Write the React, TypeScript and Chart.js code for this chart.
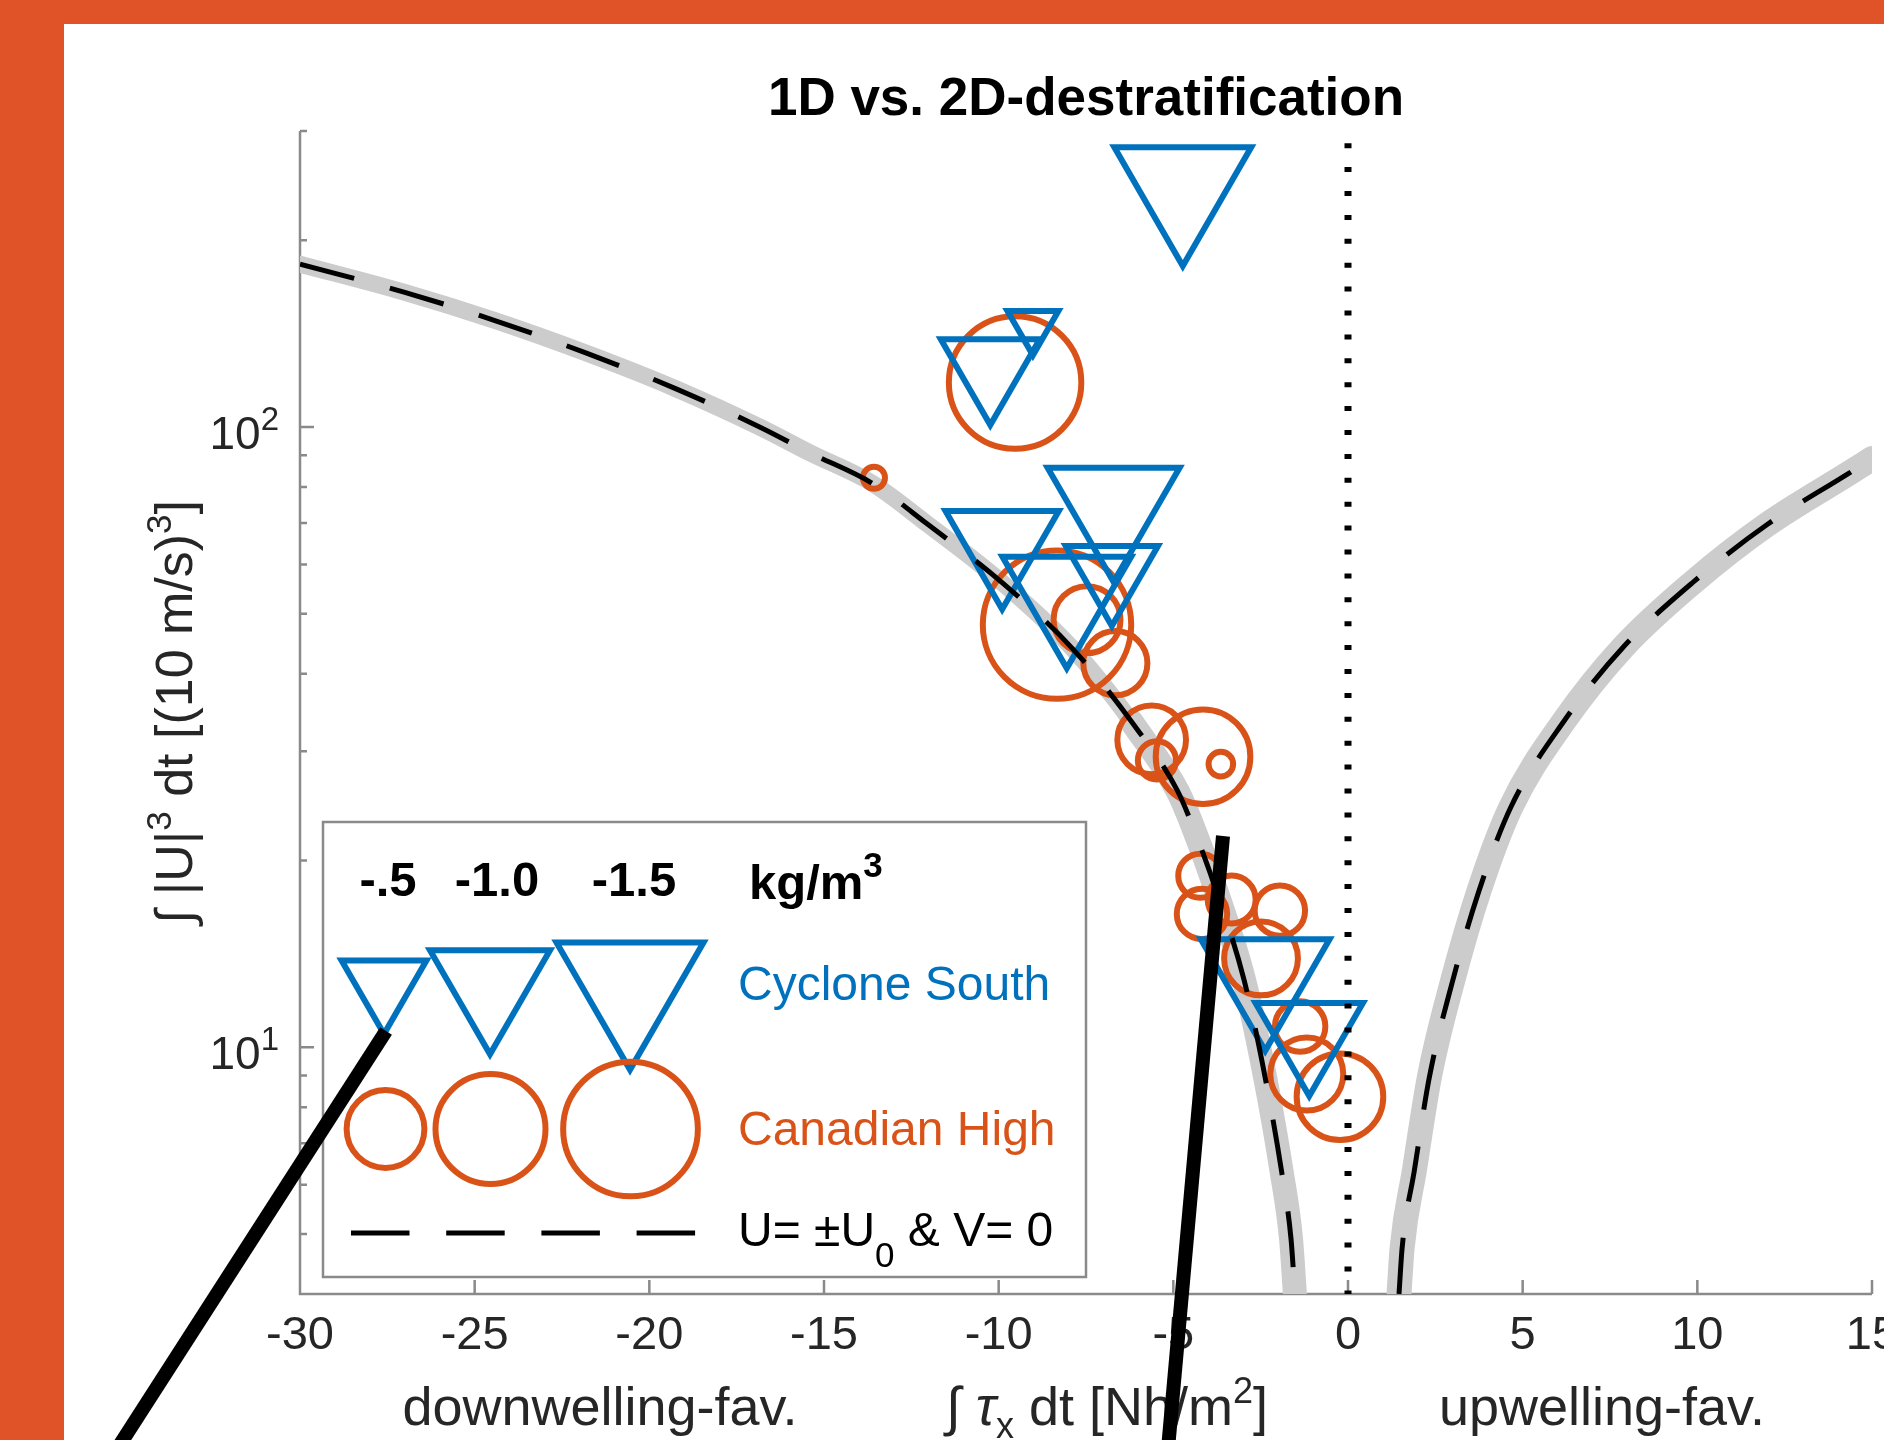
import React, { useEffect, useRef } from 'react';
import { Chart, registerables } from 'chart.js';

Chart.register(...registerables);

const FONT = '"Liberation Sans", Arial, Helvetica, sans-serif';
const BLUE = '#0072BD';
const ORANGE = '#D95319';
const FRAME = '#E05328';
const AXIS = '#8a8a8a';
const TEXT = '#262626';
const BAND = '#cccccc';
const MARKER_LW = 6;

// ---------------- data ----------------
// U = ±U0 & V = 0 reference curve (two branches)
const curveLeftX = [-30, -27, -24.4, -21.8, -19.25, -16.8, -15.4, -13.6, -12.05, -9.9, -7.9, -6.2, -4.88, -4.47, -3.76, -2.97, -2.37, -1.9, -1.63, -1.52];
const curveLeftY = [183, 164.8, 148.3, 131.5, 115.3, 99.7, 90.8, 81, 69.8, 56.1, 44.0, 33.5, 25.9, 22.9, 17.8, 12.8, 8.93, 6.3, 4.9, 4.0];
const curveRightX = [1.46, 1.55, 1.9, 2.33, 2.98, 3.74, 4.65, 6.19, 7.87, 9.88, 12.0, 14.31, 15.0];
const curveRightY = [4.0, 4.75, 6.33, 8.95, 12.7, 17.8, 24.3, 33.6, 44.1, 56.2, 69.6, 84.0, 88.9];
// split (indices) between the thin upper and the wider lower part of the grey band on the left branch
const bandSplitStart = 11; // lower band starts at x = -6.2
const bandSplitEnd = 12; // upper band ends at x = -4.88

// Cyclone South (down triangles)
const cycloneX = [-4.73, -9.02, -10.24, -6.71, -9.9, -8.05, -6.76, -2.37, -1.11];
const cycloneY = [243.8, 145.6, 124.5, 74.6, 64.8, 53.8, 58.2, 13.0, 10.5];
const cycloneDrho = [-1.3, -0.18, -0.68, -1.21, -0.89, -1.15, -0.59, -1.15, -0.8];

// Canadian High (circles)
const canadianX = [-9.53, -8.33, -7.47, -6.66, -5.62, -4.15, -3.64, -5.47, -13.57, -4.23, -4.18, -3.33, -1.95, -2.49, -1.37, -1.18, -0.23];
const canadianY = [117.9, 48.0, 48.9, 41.6, 31.3, 29.4, 28.6, 29.0, 82.8, 18.9, 16.4, 17.3, 16.6, 13.9, 10.8, 9.05, 8.32];
const canadianDrho = [-1.45, -1.82, -0.37, -0.34, -0.39, -0.74, -0.05, -0.12, -0.04, -0.16, -0.21, -0.19, -0.21, -0.45, -0.21, -0.44, -0.62];

// axes
const xTicks = [-30, -25, -20, -15, -10, -5, 0, 5, 10, 15];
const yMajorTicks = [10, 100];
const yTickExponents = ['1', '2'];
const yMinorTicks = [4, 5, 6, 7, 8, 9, 20, 30, 40, 50, 60, 70, 80, 90, 200, 300];
const zeroLineY = [300, 4];

// legend
const legendDrho = [-0.5, -1.0, -1.5];
const legendHeader = ['-.5', '-1.0', '-1.5'];

// marker size encodes density change (area ~ |Δρ|)
const triRadius = (d: number) => 69.3 * Math.sqrt(Math.abs(d));
const circRadius = (d: number) => 55 * Math.sqrt(Math.abs(d));

type Seg = { t: string; size: number; weight?: string; style?: string; dy?: number };

function segFont(s: Seg) {
  return `${s.style || 'normal'} ${s.weight || 'normal'} ${s.size}px ${FONT}`;
}

function drawRich(
  ctx: CanvasRenderingContext2D,
  segs: Seg[],
  x: number,
  y: number,
  align: 'left' | 'center' | 'right',
  color: string
) {
  ctx.save();
  ctx.textAlign = 'left';
  ctx.textBaseline = 'alphabetic';
  ctx.fillStyle = color;
  const widths = segs.map((s) => {
    ctx.font = segFont(s);
    return ctx.measureText(s.t).width;
  });
  const total = widths.reduce((a, b) => a + b, 0);
  let cx = align === 'center' ? x - total / 2 : align === 'right' ? x - total : x;
  segs.forEach((s, i) => {
    ctx.font = segFont(s);
    ctx.fillText(s.t, cx, y + (s.dy || 0));
    cx += widths[i];
  });
  ctx.restore();
}

function strokeDownTriangle(ctx: CanvasRenderingContext2D, cx: number, cy: number, r: number) {
  ctx.beginPath();
  for (let k = 0; k < 3; k++) {
    const ang = Math.PI + (k * 2 * Math.PI) / 3;
    const px = cx + Math.sin(ang) * r;
    const py = cy - Math.cos(ang) * r;
    if (k === 0) ctx.moveTo(px, py);
    else ctx.lineTo(px, py);
  }
  ctx.closePath();
  ctx.stroke();
}

const decorPlugin = {
  id: 'decor',
  beforeDatasetsDraw(chart: any) {
    const { ctx, chartArea: a, scales } = chart;
    const xs = scales.x;
    const ys = scales.y;
    ctx.save();
    ctx.strokeStyle = AXIS;
    ctx.lineWidth = 2.5;
    ctx.lineCap = 'butt';
    ctx.beginPath();
    ctx.moveTo(a.left, a.top);
    ctx.lineTo(a.left, a.bottom);
    ctx.lineTo(a.right, a.bottom);
    xTicks.forEach((v) => {
      const p = xs.getPixelForValue(v);
      ctx.moveTo(p, a.bottom);
      ctx.lineTo(p, a.bottom - 14);
    });
    yMajorTicks.forEach((v) => {
      const p = ys.getPixelForValue(v);
      ctx.moveTo(a.left, p);
      ctx.lineTo(a.left + 14, p);
    });
    yMinorTicks.forEach((v) => {
      const p = ys.getPixelForValue(v);
      ctx.moveTo(a.left, p);
      ctx.lineTo(a.left + 7, p);
    });
    ctx.stroke();
    ctx.restore();

    // y tick labels 10^n
    yMajorTicks.forEach((v, i) => {
      const p = ys.getPixelForValue(v);
      drawRich(
        ctx,
        [
          { t: '10', size: 46 },
          { t: yTickExponents[i], size: 33, dy: -19 },
        ],
        a.left - 21,
        p + 22,
        'right',
        TEXT
      );
    });
  },
  afterDraw(chart: any) {
    const { ctx } = chart;
    // title
    drawRich(ctx, [{ t: '1D vs. 2D-destratification', size: 53, weight: 'bold' }], 1086, 115, 'center', '#000');

    // x axis labels
    drawRich(ctx, [{ t: 'downwelling-fav.', size: 54 }], 600, 1425, 'center', TEXT);
    drawRich(ctx, [{ t: 'upwelling-fav.', size: 54 }], 1602, 1425, 'center', TEXT);
    drawRich(
      ctx,
      [
        { t: '\u222B ', size: 54 },
        { t: '\u03C4', size: 54, style: 'italic' },
        { t: 'x', size: 36, dy: 13 },
        { t: ' dt [Nh/m', size: 54 },
        { t: '2', size: 36, dy: -22 },
        { t: ']', size: 54 },
      ],
      1107,
      1425,
      'center',
      TEXT
    );

    // y axis label (rotated)
    ctx.save();
    ctx.translate(180, 712);
    ctx.rotate(-Math.PI / 2);
    drawRich(
      ctx,
      [
        { t: '\u222B |U|', size: 52 },
        { t: '3', size: 35, dy: -21 },
        { t: ' dt [(10 m/s)', size: 52 },
        { t: '3', size: 35, dy: -21 },
        { t: ']', size: 52 },
      ],
      0,
      12,
      'center',
      TEXT
    );
    ctx.restore();

    // legend
    ctx.save();
    ctx.fillStyle = '#ffffff';
    ctx.fillRect(323, 822, 763, 455);
    ctx.strokeStyle = AXIS;
    ctx.lineWidth = 2.5;
    ctx.strokeRect(323, 822, 763, 455);
    ctx.restore();

    const headerX = [388, 497, 634];
    legendHeader.forEach((h, i) => {
      drawRich(ctx, [{ t: h, size: 49, weight: 'bold' }], headerX[i], 896, 'center', '#000');
    });
    drawRich(
      ctx,
      [
        { t: 'kg/m', size: 49, weight: 'bold' },
        { t: '3', size: 35, weight: 'bold', dy: -22 },
      ],
      749,
      899,
      'left',
      '#000'
    );

    const triX = [384, 490, 630];
    const circX = [385.5, 490.5, 630.5];
    ctx.save();
    ctx.lineWidth = MARKER_LW;
    ctx.lineJoin = 'miter';
    ctx.strokeStyle = BLUE;
    legendDrho.forEach((d, i) => strokeDownTriangle(ctx, triX[i], 985, triRadius(d)));
    ctx.strokeStyle = ORANGE;
    legendDrho.forEach((d, i) => {
      ctx.beginPath();
      ctx.arc(circX[i], 1129, circRadius(d), 0, Math.PI * 2);
      ctx.stroke();
    });
    ctx.strokeStyle = '#000';
    ctx.lineWidth = 5;
    ctx.setLineDash([58.5, 36.7]);
    ctx.beginPath();
    ctx.moveTo(351, 1233);
    ctx.lineTo(696, 1233);
    ctx.stroke();
    ctx.restore();

    drawRich(ctx, [{ t: 'Cyclone South', size: 48 }], 738, 1000, 'left', BLUE);
    drawRich(ctx, [{ t: 'Canadian High', size: 48 }], 738, 1145, 'left', ORANGE);
    drawRich(
      ctx,
      [
        { t: 'U= \u00B1U', size: 48 },
        { t: '0', size: 35, dy: 21 },
        { t: ' & V= 0', size: 48 },
      ],
      738,
      1246,
      'left',
      '#000'
    );

    // annotation strokes
    ctx.save();
    ctx.strokeStyle = '#000';
    ctx.lineCap = 'butt';
    ctx.lineWidth = 14;
    ctx.beginPath();
    ctx.moveTo(386, 1031);
    ctx.lineTo(110, 1460);
    ctx.stroke();
    ctx.lineWidth = 14;
    ctx.beginPath();
    ctx.moveTo(1223, 836);
    ctx.lineTo(1167, 1460);
    ctx.stroke();
    ctx.restore();
  },
};

export default function App() {
  const ref = useRef<HTMLCanvasElement | null>(null);

  useEffect(() => {
    const canvas = ref.current;
    if (!canvas) return;

    const pts = (xs: number[], ys: number[]) => xs.map((x, i) => ({ x, y: ys[i] }));
    const leftPts = pts(curveLeftX, curveLeftY);
    const rightPts = pts(curveRightX, curveRightY);

    const band = (data: any[], width: number, label: string) => ({
      label,
      data,
      showLine: true,
      borderColor: BAND,
      borderWidth: width,
      borderCapStyle: 'round',
      borderJoinStyle: 'round',
      pointRadius: 0,
      cubicInterpolationMode: 'monotone',
      clip: 0,
      order: 10,
    });

    const dashed = (data: any[], label: string) => ({
      label,
      data,
      showLine: true,
      borderColor: '#000',
      borderWidth: 5,
      borderDash: [56, 37],
      pointRadius: 0,
      cubicInterpolationMode: 'monotone',
      clip: 0,
      order: 2,
    });

    const chart = new Chart(canvas, {
      type: 'scatter',
      data: {
        datasets: [
          band(leftPts.slice(0, bandSplitEnd + 1), 17, 'band-left-upper'),
          band(leftPts.slice(bandSplitStart), 24, 'band-left-lower'),
          band(rightPts, 25, 'band-right'),
          {
            label: 'Canadian High',
            data: pts(canadianX, canadianY),
            showLine: false,
            pointStyle: 'circle',
            pointRadius: (c: any) => circRadius(canadianDrho[c.dataIndex]),
            pointBorderWidth: MARKER_LW,
            pointBorderColor: ORANGE,
            pointBackgroundColor: 'rgba(0,0,0,0)',
            clip: false,
            order: 8,
          },
          {
            label: 'Cyclone South',
            data: pts(cycloneX, cycloneY),
            showLine: false,
            pointStyle: 'triangle',
            pointRotation: 180,
            pointRadius: (c: any) => triRadius(cycloneDrho[c.dataIndex]),
            pointBorderWidth: MARKER_LW,
            pointBorderColor: BLUE,
            pointBackgroundColor: 'rgba(0,0,0,0)',
            clip: false,
            order: 6,
          },
          {
            label: 'zero',
            data: zeroLineY.map((y) => ({ x: 0, y })),
            showLine: true,
            borderColor: '#000',
            borderWidth: 7,
            borderDash: [5, 18.9],
            borderDashOffset: 11.7,
            pointRadius: 0,
            clip: 0,
            order: 4,
          },
          dashed(leftPts, 'U=±U0 left'),
          dashed(rightPts, 'U=±U0 right'),
        ],
      } as any,
      options: {
        responsive: false,
        devicePixelRatio: 1,
        animation: false,
        events: [],
        locale: 'en-US',
        layout: { padding: { left: 0, top: 131, right: 12, bottom: 0 }, autoPadding: false },
        plugins: {
          legend: { display: false },
          title: { display: false },
          tooltip: { enabled: false },
        },
        scales: {
          x: {
            type: 'linear',
            min: -30,
            max: 15,
            afterBuildTicks: (s: any) => {
              s.ticks = xTicks.map((v) => ({ value: v }));
            },
            afterFit: (s: any) => {
              s.height = 146;
              s.paddingLeft = 0;
              s.paddingRight = 0;
            },
            grid: { display: false, drawTicks: false },
            border: { display: false },
            ticks: {
              font: { family: FONT, size: 47 },
              color: TEXT,
              padding: 14,
              autoSkip: false,
              maxRotation: 0,
              minRotation: 0,
              callback: (v: any) => String(v),
            },
          },
          y: {
            type: 'logarithmic',
            min: 4,
            max: 300,
            afterBuildTicks: (s: any) => {
              s.ticks = yMajorTicks.map((v) => ({ value: v }));
            },
            afterFit: (s: any) => {
              s.width = 300;
              s.paddingTop = 0;
              s.paddingBottom = 0;
            },
            grid: { display: false, drawTicks: false },
            border: { display: false },
            ticks: { display: false },
          },
        },
      } as any,
      plugins: [decorPlugin as any],
    });

    return () => chart.destroy();
  }, []);

  return (
    <div
      style={{
        position: 'fixed',
        left: 0,
        top: 0,
        width: 1884,
        height: 1440,
        background: FRAME,
        overflow: 'hidden',
      }}
    >
      <div style={{ position: 'absolute', left: 64, top: 24, right: 0, bottom: 0, background: '#ffffff' }} />
      <canvas
        ref={ref}
        width={1884}
        height={1440}
        style={{ position: 'absolute', left: 0, top: 0, width: 1884, height: 1440 }}
      />
    </div>
  );
}
